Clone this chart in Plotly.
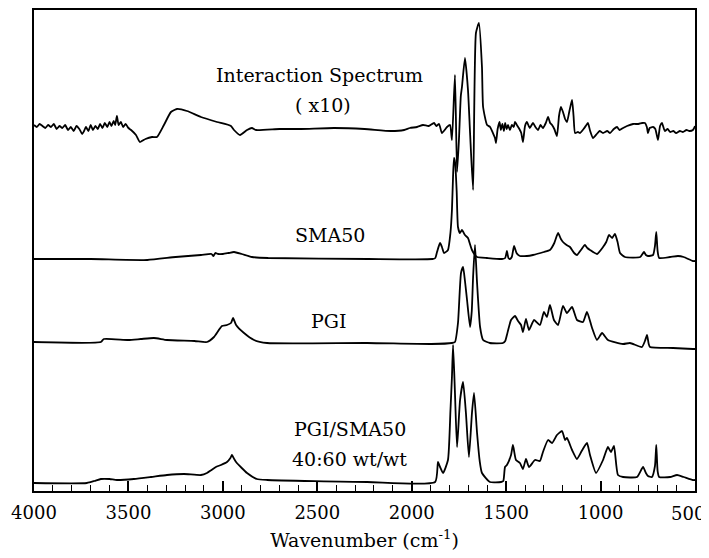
import plotly.graph_objects as go

# FTIR spectra (wavenumber cm-1, offset absorbance in arbitrary units)
INTERACTION = [
    (4000,366),(3985,364),(3970,367),(3955,365),(3940,363),(3925,366),(3910,364),(3895,367),(3880,362),(3865,365),
    (3850,363),(3835,366),(3820,361),(3805,364),(3790,360),(3775,365),(3760,362),(3745,357),(3735,360),(3725,364),
    (3712,360),(3700,366),(3688,361),(3675,365),(3662,362),(3650,367),(3638,363),(3625,368),(3612,364),(3600,369),
    (3590,365),(3578,370),(3570,366),(3561,375),(3552,366),(3540,369),(3528,364),(3515,367),(3500,363),(3486,361),
    (3460,356),(3439,349),(3410,352),(3375,354),(3349,354),(3312,366),(3275,379),(3243,382),(3190,380),(3116,374),
    (3031,369),(2957,365),(2941,361),(2909,356),(2872,361),(2846,363),(2825,361),(2700,362),(2586,362),(2411,363),
    (2250,362),(2110,360),(2040,361),(2010,363),(1972,364),(1940,366),(1910,365),(1882,368),(1870,365),(1855,367),
    (1840,358),(1813,364),(1797,366),(1787,351),(1771,416),(1760,319),(1750,351),(1740,395),(1734,404),(1718,433),
    (1702,401),(1691,358),(1675,301),(1660,458),(1644,468),(1628,424),(1622,384),(1601,366),(1585,364),(1570,358),
    (1559,353),(1554,348),(1545,362),(1535,369),(1528,361),(1520,367),(1512,360),(1505,368),(1497,362),(1490,366),
    (1480,361),(1470,366),(1460,364),(1453,369),(1440,365),(1430,362),(1420,358),(1411,349),(1400,365),(1390,369),
    (1375,363),(1358,368),(1345,364),(1331,361),(1318,366),(1305,363),(1290,368),(1278,374),(1267,368),(1257,366),
    (1245,362),(1231,355),(1220,375),(1210,384),(1199,379),(1188,372),(1178,369),(1165,380),(1151,391),(1143,375),
    (1135,358),(1120,359),(1109,358),(1090,362),(1075,366),(1067,368),(1055,360),(1040,353),(1020,357),(1005,360),
    (987,358),(965,360),(950,358),(930,362),(913,364),(900,361),(881,363),(860,365),(828,367),(800,367),
    (780,368),(765,368),(755,364),(749,358),(740,363),(722,364),(710,362),(696,351),(685,365),(675,368),
    (660,360),(645,362),(632,359),(615,360),(600,358),(580,360),(564,359),(545,361),(530,360),(511,361),(500,365),
]

SMA50 = [
    (4000,232),(3700,232),(3400,231),(3250,234),(3116,236),(3060,237),(3050,235),(3040,238),(3026,237),(3000,237),
    (2970,238),(2941,239),(2900,237),(2846,234),(2760,233),(2230,232),(1890,232),(1875,233),(1866,239),(1850,248),
    (1840,244),(1829,238),(1808,241),(1795,258),(1787,281),(1781,315),(1776,333),(1770,328),(1762,300),(1755,264),
    (1745,258),(1734,261),(1718,256),(1702,253),(1690,246),(1681,241),(1665,236),(1654,234),(1601,233),(1522,232),
    (1505,233),(1496,240),(1488,233),(1480,232),(1470,234),(1458,245),(1445,238),(1427,235),(1390,235),(1358,236),
    (1300,239),(1268,241),(1245,248),(1225,258),(1210,252),(1199,249),(1180,246),(1162,244),(1140,238),(1125,236),
    (1100,242),(1083,246),(1070,243),(1056,241),(1019,237),(987,244),(970,249),(955,256),(939,253),(924,257),
    (910,249),(897,238),(871,234),(790,234),(770,239),(760,236),(749,235),(722,236),(712,245),(705,259),
    (698,240),(690,233),(632,234),(590,235),(560,234),(511,230),(500,230),
]

PGI = [
    (4000,149),(3646,149),(3630,152),(3500,151),(3434,152),(3365,153),(3296,151),(3150,150),(3084,149),(3047,154),
    (3005,165),(2978,166),(2957,168),(2946,173),(2930,166),(2888,158),(2835,151),(2766,148),(2236,148),(1897,147),
    (1787,148),(1771,149),(1755,168),(1739,218),(1728,224),(1718,210),(1707,191),(1691,164),(1682,180),(1675,214),
    (1665,246),(1654,208),(1638,164),(1622,151),(1586,148),(1517,148),(1505,150),(1496,156),(1474,171),(1453,175),
    (1437,170),(1421,166),(1411,159),(1395,172),(1379,161),(1352,171),(1321,166),(1300,179),(1284,174),(1268,186),
    (1247,171),(1225,166),(1199,185),(1178,178),(1151,184),(1125,171),(1093,169),(1072,179),(1045,163),(1019,151),
    (992,158),(961,151),(881,147),(844,148),(781,144),(765,150),(754,156),(745,147),(738,144),(616,143),
    (511,142),(500,142),
]

BLEND = [
    (4000,8),(3720,8),(3680,10),(3646,12),(3600,12),(3561,11),(3471,12),(3380,14),(3296,16),(3206,17),
    (3116,16),(3084,18),(3060,21),(3037,24),(3010,26),(2978,29),(2960,33),(2952,36),(2940,32),(2930,29),
    (2900,23),(2872,18),(2820,12),(2766,11),(2236,9),(1876,9),(1861,29),(1850,24),(1834,18),(1808,31),
    (1795,80),(1787,114),(1781,146),(1771,98),(1760,44),(1744,91),(1728,109),(1713,78),(1697,34),(1681,78),
    (1670,98),(1654,58),(1640,30),(1628,18),(1586,9),(1527,9),(1515,10),(1506,24),(1496,26),(1474,36),
    (1464,46),(1448,31),(1427,28),(1411,22),(1395,32),(1379,24),(1347,31),(1321,30),(1305,39),(1278,51),
    (1257,48),(1231,56),(1204,60),(1188,51),(1178,53),(1151,41),(1125,32),(1100,40),(1072,48),(1056,36),
    (1024,18),(987,31),(961,44),(945,39),(929,45),(908,16),(881,14),(807,14),(775,24),(760,18),
    (749,15),(728,14),(712,25),(705,46),(698,20),(690,14),(632,14),(595,16),(560,14),(511,11),(500,11),
]

SERIES_NAMES = ["Interaction Spectrum (x10)", "SMA50", "PGI", "PGI/SMA50 40:60 wt/wt"]
X_TICKS = [4000, 3500, 3000, 2500, 2000, 1500, 1000, 500]
X_TICK_TEXT = ["4000", "3500", "3000", "2500", "2000", "1500", "1000", "500"]

FONT = "DejaVu Serif"

fig = go.Figure()
for name, data in zip(SERIES_NAMES, [INTERACTION, SMA50, PGI, BLEND]):
    fig.add_trace(go.Scatter(
        x=[p[0] for p in data], y=[p[1] for p in data], mode="lines", name=name,
        line=dict(color="black", width=1.8, shape="spline", smoothing=0.5), showlegend=False,
    ))

labels = [
    ("Interaction Spectrum", 2490, 416),
    ("( x10)", 2470, 386),
    ("SMA50", 2433, 256),
    ("PGI", 2443, 170),
    ("PGI/SMA50", 2327, 62),
    ("40:60 wt/wt", 2327, 32),
]
for text, x, y in labels:
    fig.add_annotation(x=x, y=y, text=text, showarrow=False,
                       font=dict(family=FONT, size=19, color="black"))

# the last tick label sits flush with the right edge of the figure, as in the original
fig.add_annotation(x=1, xref="paper", y=0, yref="paper", text=X_TICK_TEXT[-1],
                   showarrow=False, xanchor="right", yanchor="middle", xshift=12, yshift=-22,
                   font=dict(family=FONT, size=18, color="black"))

fig.update_xaxes(
    range=[4000, 500], autorange=False,
    tickvals=X_TICKS[:-1], ticktext=X_TICK_TEXT[:-1],
    ticks="inside", ticklen=10, tickwidth=1.5, tickcolor="black",
    minor=dict(dtick=100, tick0=500, ticks="inside", ticklen=6, tickwidth=1.3, tickcolor="black", showgrid=False),
    showline=True, linewidth=2, linecolor="black", mirror=True,
    showgrid=False, zeroline=False,
    tickfont=dict(family=FONT, size=18, color="black"),
    ticklabelstandoff=4, ticklabeloverflow="allow",
    title=dict(text="Wavenumber (cm<sup>-1</sup>)", font=dict(family=FONT, size=19, color="black"), standoff=12),
)
fig.update_yaxes(
    range=[0, 481], autorange=False, showticklabels=False, ticks="",
    showline=True, linewidth=2, linecolor="black", mirror=True,
    showgrid=False, zeroline=False,
)
fig.update_layout(
    width=701, height=550,
    margin=dict(l=26, r=14, t=2, b=67, autoexpand=False),
    paper_bgcolor="white", plot_bgcolor="white",
)
fig.write_html("out.html")
